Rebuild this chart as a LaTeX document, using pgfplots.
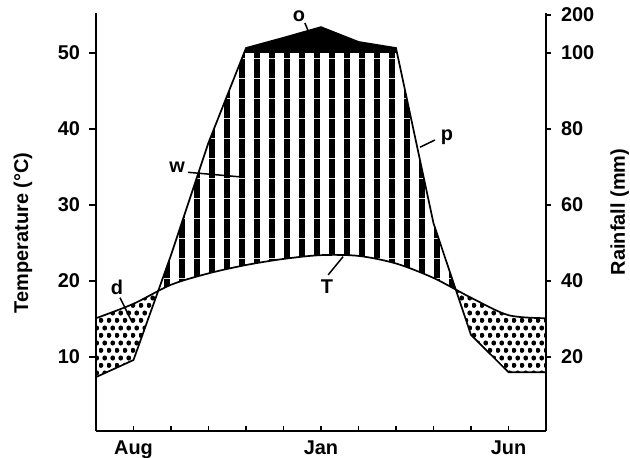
\documentclass[border=0pt]{standalone}
\usepackage{fontspec}
\setmainfont{Liberation Sans}
\usepackage{pgfplots}
\pgfplotsset{compat=1.18}
\usepackage{pgfplotstable}
\usepgfplotslibrary{fillbetween}
\usetikzlibrary{patterns}

\pgfdeclarepatternformonly{vstripes}{\pgfpointorigin}{\pgfpoint{7.45bp}{10bp}}{\pgfpoint{7.45bp}{10bp}}{%
  \pgfpathrectangle{\pgfpointorigin}{\pgfpoint{2.9bp}{10bp}}\pgfusepath{fill}}
\pgfdeclarepatternformonly{bigdots}{\pgfpointorigin}{\pgfpoint{4.15bp}{7.4bp}}{\pgfpoint{4.15bp}{7.4bp}}{%
  \pgfpathcircle{\pgfpoint{1.04bp}{1.85bp}}{1.3bp}%
  \pgfpathcircle{\pgfpoint{3.11bp}{5.55bp}}{1.3bp}%
  \pgfusepath{fill}}

% month index (0 = Jul ... 12 = Jul), temperature (deg C), rainfall (mm)
\pgfplotstableread{
m T R
0 15.1 14.7
1 17.0 19.2
2 19.5 46.8
3 21.0 76.4
4 22.1 113
5 22.9 140
6 23.4 168
7 23.3 129
8 22.3 113
9 20.4 55.2
10 17.8 25.8
11 15.5 16.0
12 15.1 16.0
}\climate

\begin{document}
\begin{tikzpicture}[font=\fontsize{10}{12}\selectfont\bfseries]
\pgfplotsset{
  common/.style={scale only axis, width=225bp, height=209bp,
    xmin=0, xmax=12, ymin=0.26, ymax=55.26,
    axis line style={line width=0.85bp,-},
    every tick/.style={line width=0.85bp, black},
    /pgf/number format/assume math mode=true,
    tick label style={font=\fontsize{10}{12}\selectfont\bfseries},
    label style={font=\fontsize{10}{12}\selectfont\bfseries}}
}
\begin{axis}[common, clip=false,
  axis x line*=bottom, axis y line*=left,
  ytick=\empty, xtick={1,...,11},
  xticklabels={Aug,,,,,Jan,,,,,Jun},
  tick align=inside, major tick length=2.5bp,
  xticklabel style={yshift=-1.5bp}]
\coordinate (O) at (rel axis cs:0,0);
\addplot[draw=none, name path=T, smooth] table[x=m,y=T]{\climate};
\addplot[draw=none, name path=R] table[x=m, y expr={ifthenelse(\thisrow{R}<=100, \thisrow{R}/2, 50+(\thisrow{R}-100)/20)}]{\climate};
\addplot[draw=none, name path=H] coordinates {(0,50) (12,50)};
\addplot[draw=none] fill between[of=R and T, split,
  every segment no 0/.style={pattern=bigdots},
  every segment no 1/.style={pattern=vstripes},
  every segment no 2/.style={pattern=bigdots}];
\addplot[fill=black, draw=none] fill between[of=R and H,
  soft clip={(axis cs:3.97,50) rectangle (axis cs:8.02,60)}];
\addplot[smooth, line width=0.85bp, black] table[x=m,y=T]{\climate};
\addplot[line width=0.85bp, black] table[x=m, y expr={ifthenelse(\thisrow{R}<=100, \thisrow{R}/2, 50+(\thisrow{R}-100)/20)}]{\climate};
% annotations
\node at (axis cs:5.41,54.85) {o};
\draw[line width=0.75bp] (axis cs:5.57,53.95) -- (axis cs:5.65,53.0);
\node at (axis cs:2.16,34.9) {w};
\draw[line width=0.75bp] (axis cs:2.45,34.3) -- (axis cs:3.84,33.7);
\node at (axis cs:9.36,38.9) {p};
\draw[line width=0.75bp] (axis cs:8.64,37.6) -- (axis cs:9.04,38.55);
\node at (axis cs:0.56,19.1) {d};
\draw[line width=0.75bp] (axis cs:0.64,17.8) -- (axis cs:0.96,14.6);
\node at (axis cs:6.16,19.2) {T};
\draw[line width=0.75bp] (axis cs:6.19,20.8) -- (axis cs:6.59,23.2);
\end{axis}
\begin{axis}[common, axis y line*=left, axis x line=none,
  tick align=outside, major tick length=3.5bp,
  ytick={10,20,30,40,50},
  ylabel={Temperature (°C)},
  ylabel style={at={(axis description cs:-0.162,0.474)}, anchor=center},
  yticklabel style={xshift=-1bp}]
\addplot[draw=none] coordinates {(1,10)};
\end{axis}
\begin{axis}[common, axis y line*=right, axis x line=none,
  tick align=outside, major tick length=2.5bp,
  ytick={10,20,30,40,50,55},
  yticklabels={20,40,60,80,100,200},
  ylabel={Rainfall (mm)},
  ylabel style={at={(axis description cs:1.164,0.524)}, anchor=center},
  yticklabel style={xshift=1.5bp}]
\addplot[draw=none] coordinates {(1,10)};
\end{axis}
\pgfresetboundingbox
\path ([shift={(-48bp,-13.5bp)}]O) rectangle ([shift={(267bp,215.5bp)}]O);
\end{tikzpicture}
\end{document}
